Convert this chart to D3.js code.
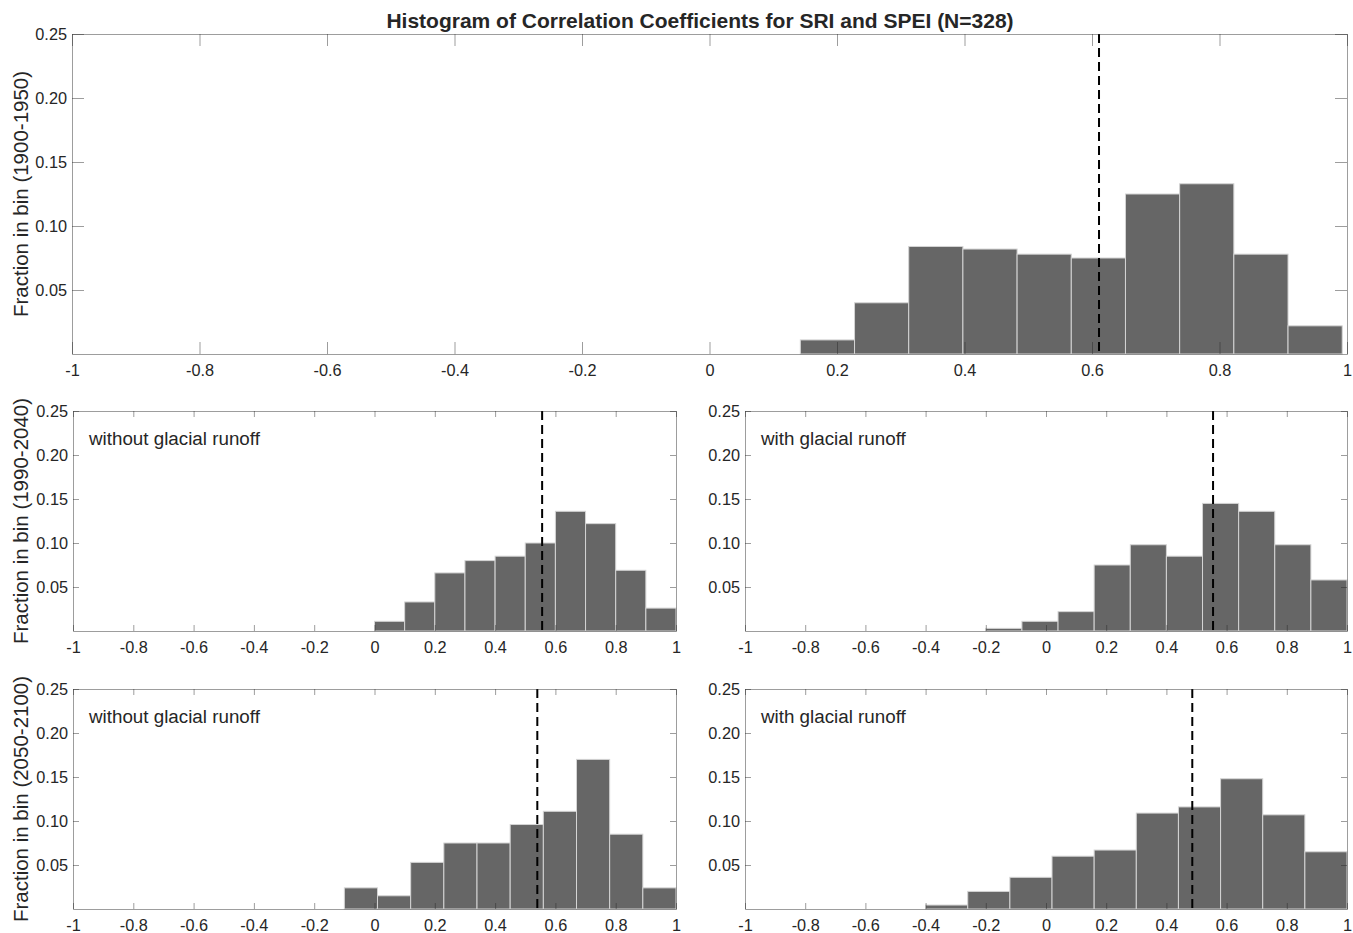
<!DOCTYPE html>
<html>
<head>
<meta charset="utf-8">
<script src="https://cdn.jsdelivr.net/npm/d3@7"></script>
<style>
  html, body { margin: 0; padding: 0; background: #ffffff; }
  svg { display: block; }
  text { font-family: Helvetica, Arial, "Liberation Sans", sans-serif; fill: #262626; }
</style>
</head>
<body>
<svg id="chart" width="1353" height="933"></svg>
<script>
// ---- Data ----
const titleText = "Histogram of Correlation Coefficients for SRI and SPEI (N=328)";
const xTicks = [-1, -0.8, -0.6, -0.4, -0.2, 0, 0.2, 0.4, 0.6, 0.8, 1];
const xTickLabels = ["-1", "-0.8", "-0.6", "-0.4", "-0.2", "0", "0.2", "0.4", "0.6", "0.8", "1"];
const yTicks = [0.05, 0.10, 0.15, 0.20, 0.25];
const yTickLabels = ["0.05", "0.10", "0.15", "0.20", "0.25"];
const yLabels = ["Fraction in bin (1900-1950)", "Fraction in bin (1990-2040)", "Fraction in bin (2050-2100)"];
const panelNotes = ["", "without glacial runoff", "with glacial runoff", "without glacial runoff", "with glacial runoff"];

// bin edges per panel
const edgesHist = [0.1425, 0.2275, 0.3125, 0.3975, 0.4825, 0.5675, 0.6525, 0.7375, 0.8225, 0.9075, 0.9925];
const edgesMidNoGlac = [0, 0.1, 0.2, 0.3, 0.4, 0.5, 0.6, 0.7, 0.8, 0.9, 1.0];
const edgesMidGlac = [-0.2, -0.08, 0.04, 0.16, 0.28, 0.40, 0.52, 0.64, 0.76, 0.88, 1.0];
const edgesEndNoGlac = [-0.1, 0.01, 0.12, 0.23, 0.34, 0.45, 0.56, 0.67, 0.78, 0.89, 1.0];
const edgesEndGlac = [-0.4, -0.26, -0.12, 0.02, 0.16, 0.30, 0.44, 0.58, 0.72, 0.86, 1.0];

// fraction in each bin
const fracHist = [0.011, 0.040, 0.084, 0.082, 0.078, 0.075, 0.125, 0.133, 0.078, 0.022];
const fracMidNoGlac = [0.011, 0.033, 0.066, 0.080, 0.085, 0.100, 0.136, 0.122, 0.069, 0.026];
const fracMidGlac = [0.003, 0.011, 0.022, 0.075, 0.098, 0.085, 0.145, 0.136, 0.098, 0.058];
const fracEndNoGlac = [0.024, 0.015, 0.053, 0.075, 0.075, 0.096, 0.111, 0.170, 0.085, 0.024];
const fracEndGlac = [0.0045, 0.020, 0.036, 0.060, 0.067, 0.109, 0.116, 0.148, 0.107, 0.065];

// mean correlation (dashed line)
const meanValues = [0.611, 0.556, 0.555, 0.540, 0.486];

// ---- Layout ----
const svg = d3.select("#chart");
svg.append("rect").attr("width", 1353).attr("height", 933).attr("fill", "#fff");

const boxes = [
  {x0: 72, x1: 1347, y0: 34, y1: 354, tick: 12, row: 0},
  {x0: 73, x1: 676, y0: 411, y1: 631, tick: 6, row: 1},
  {x0: 745, x1: 1347, y0: 411, y1: 631, tick: 6, row: 1},
  {x0: 73, x1: 676, y0: 689, y1: 909, tick: 6, row: 2},
  {x0: 745, x1: 1347, y0: 689, y1: 909, tick: 6, row: 2}
];
const edgesList = [edgesHist, edgesMidNoGlac, edgesMidGlac, edgesEndNoGlac, edgesEndGlac];
const fracList = [fracHist, fracMidNoGlac, fracMidGlac, fracEndNoGlac, fracEndGlac];

const AX = "#262626";
const FONT = "Helvetica, Arial, 'Liberation Sans', sans-serif";

boxes.forEach((b, i) => {
  const x = d3.scaleLinear().domain([-1, 1]).range([b.x0, b.x1]);
  const y = d3.scaleLinear().domain([0, 0.25]).range([b.y1, b.y0]);
  const g = svg.append("g");
  const edges = edgesList[i];
  const bins = fracList[i].map((v, k) => ({x0: edges[k], x1: edges[k + 1], v}));

  // bars
  g.selectAll("rect.bar").data(bins).enter().append("rect")
    .attr("class", "bar")
    .attr("x", d => x(d.x0))
    .attr("width", d => x(d.x1) - x(d.x0))
    .attr("y", d => y(d.v))
    .attr("height", d => y(0) - y(d.v))
    .attr("fill", "#666666")
    .attr("stroke", "#d4d4d4")
    .attr("stroke-width", 1);

  // mean dashed line
  g.append("line")
    .attr("x1", x(meanValues[i])).attr("x2", x(meanValues[i]))
    .attr("y1", y(0.25)).attr("y2", y(0))
    .attr("stroke", "#000").attr("stroke-width", 2)
    .attr("stroke-dasharray", "9,5");

  // axes (bottom / left with labels, top / right mirrored)
  const xb = d3.axisBottom(x).tickValues(xTicks).tickFormat((d, k) => xTickLabels[k]).tickSizeInner(-b.tick).tickSizeOuter(0);
  const xt = d3.axisTop(x).tickValues(xTicks).tickFormat("").tickSizeInner(-b.tick).tickSizeOuter(0);
  const yl = d3.axisLeft(y).tickValues(yTicks).tickFormat((d, k) => yTickLabels[k]).tickSizeInner(-b.tick).tickSizeOuter(0);
  const yr = d3.axisRight(y).tickValues(yTicks).tickFormat("").tickSizeInner(-b.tick).tickSizeOuter(0);

  const styleAxis = sel => {
    sel.selectAll("path.domain").attr("stroke", AX).attr("stroke-opacity", 0.45);
    sel.selectAll(".tick line").attr("stroke", AX).attr("stroke-opacity", 0.45);
    sel.selectAll(".tick text").attr("fill", AX).style("font-size", "16.3px").style("font-family", FONT);
  };
  const gxb = g.append("g").attr("transform", `translate(0,${b.y1})`).call(xb).call(styleAxis);
  gxb.selectAll(".tick text").attr("y", 10.5).attr("dy", "0.71em");
  g.append("g").attr("transform", `translate(0,${b.y0})`).call(xt).call(styleAxis);
  const gyl = g.append("g").attr("transform", `translate(${b.x0},0)`).call(yl).call(styleAxis);
  gyl.selectAll(".tick text").attr("x", -5);
  g.append("g").attr("transform", `translate(${b.x1},0)`).call(yr).call(styleAxis);

  // panel note
  if (panelNotes[i]) {
    g.append("text").attr("x", b.x0 + 16).attr("y", b.y0 + 34)
      .style("font-size", "18.8px").attr("fill", "#000").text(panelNotes[i]);
  }
});

// y labels
[0, 1, 3].forEach((bi, r) => {
  const b = boxes[bi];
  svg.append("text")
    .attr("transform", `translate(28,${(b.y0 + b.y1) / 2}) rotate(-90)`)
    .attr("text-anchor", "middle")
    .style("font-size", "20.5px")
    .text(yLabels[r]);
});

// title
svg.append("text")
  .attr("x", 700).attr("y", 28)
  .attr("text-anchor", "middle")
  .style("font-size", "21px").style("font-weight", "bold").attr("fill", "#000")
  .text(titleText);
</script>
</body>
</html>
